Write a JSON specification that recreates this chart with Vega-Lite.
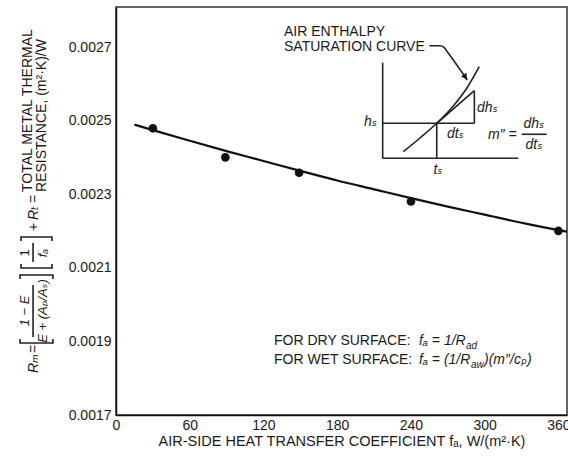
{
  "$schema": "https://vega.github.io/schema/vega-lite/v6.json",
  "width": 451,
  "height": 408,
  "autosize": {"type": "none"},
  "padding": {"left": 116, "top": 7, "right": 1, "bottom": 41},
  "background": "white",
  "config": {
    "view": {"stroke": "#333", "strokeWidth": 1.5},
    "font": "Liberation Sans, DejaVu Sans",
    "axis": {
      "domainColor": "#111", "domainWidth": 1.5, "ticks": false, "tickSize": 0, "grid": false,
      "labelFont": "Liberation Sans", "labelFontSize": 14, "labelColor": "#1a1a1a",
      "titleFont": "Liberation Sans, DejaVu Sans", "titleFontSize": 14.5, "titleFontWeight": "normal", "titleColor": "#1a1a1a"
    }
  },
  "datasets": {
    "curve": [
      {"x": 15, "y": 0.00249}, {"x": 30, "y": 0.002475}, {"x": 60, "y": 0.002446}, {"x": 90, "y": 0.002418},
      {"x": 120, "y": 0.002391}, {"x": 150, "y": 0.002364}, {"x": 180, "y": 0.002338}, {"x": 210, "y": 0.002314},
      {"x": 240, "y": 0.00229}, {"x": 270, "y": 0.002267}, {"x": 300, "y": 0.002245}, {"x": 330, "y": 0.002223},
      {"x": 360, "y": 0.002203}, {"x": 367, "y": 0.002199}
    ],
    "points": [
      {"x": 30, "y": 0.00248}, {"x": 89, "y": 0.002401}, {"x": 149, "y": 0.002359}, {"x": 240, "y": 0.002281}, {"x": 360, "y": 0.002201}
    ],
    "xticks": [{"x": 60}, {"x": 120}, {"x": 180}, {"x": 240}, {"x": 300}, {"x": 360}],
    "yticks": [{"y": 0.0019}, {"y": 0.0021}, {"y": 0.0023}, {"y": 0.0025}, {"y": 0.0027}],
    "segs": [
      {"seg": "vaxis", "o": 1, "x": 217.0, "y": 0.0026585}, {"seg": "vaxis", "o": 2, "x": 217.0, "y": 0.0023984},
      {"seg": "haxis", "o": 1, "x": 217.0, "y": 0.0023984}, {"seg": "haxis", "o": 2, "x": 327.4, "y": 0.0023984},
      {"seg": "hs", "o": 1, "x": 217.0, "y": 0.0024936}, {"seg": "hs", "o": 2, "x": 291.6, "y": 0.0024936},
      {"seg": "ts", "o": 1, "x": 261.0, "y": 0.0024936}, {"seg": "ts", "o": 2, "x": 261.0, "y": 0.0023984},
      {"seg": "tri", "o": 1, "x": 291.6, "y": 0.0024936}, {"seg": "tri", "o": 2, "x": 291.6, "y": 0.0025823},
      {"seg": "tan", "o": 1, "x": 261.0, "y": 0.0024936}, {"seg": "tan", "o": 2, "x": 291.6, "y": 0.0025823},
      {"seg": "fbar", "o": 1, "x": 330.1, "y": 0.0024637}, {"seg": "fbar", "o": 2, "x": 350.5, "y": 0.0024637},
      {"seg": "bigL", "o": 1, "x": -78.1, "y": 0.0019068}, {"seg": "bigL", "o": 2, "x": -78.1, "y": 0.0018959},
      {"seg": "bigL", "o": 3, "x": -51.3, "y": 0.0018959}, {"seg": "bigL", "o": 4, "x": -51.3, "y": 0.0019068},
      {"seg": "bigR", "o": 1, "x": -78.1, "y": 0.00207}, {"seg": "bigR", "o": 2, "x": -78.1, "y": 0.0020809},
      {"seg": "bigR", "o": 3, "x": -51.3, "y": 0.0020809}, {"seg": "bigR", "o": 4, "x": -51.3, "y": 0.00207},
      {"seg": "smL", "o": 1, "x": -77.3, "y": 0.0021108}, {"seg": "smL", "o": 2, "x": -77.3, "y": 0.0020999},
      {"seg": "smL", "o": 3, "x": -52.1, "y": 0.0020999}, {"seg": "smL", "o": 4, "x": -52.1, "y": 0.0021108},
      {"seg": "smR", "o": 1, "x": -77.3, "y": 0.0021734}, {"seg": "smR", "o": 2, "x": -77.3, "y": 0.0021843},
      {"seg": "smR", "o": 3, "x": -52.1, "y": 0.0021843}, {"seg": "smR", "o": 4, "x": -52.1, "y": 0.0021734},
      {"seg": "fbar1", "o": 1, "x": -67.5, "y": 0.0020537}, {"seg": "fbar1", "o": 2, "x": -67.5, "y": 0.0019122},
      {"seg": "fbar2", "o": 1, "x": -67.5, "y": 0.0021679}, {"seg": "fbar2", "o": 2, "x": -67.5, "y": 0.0021163}
    ],
    "smooth": [
      {"seg": "sat", "x": 233.8, "y": 0.0024163}, {"seg": "sat", "x": 247.4, "y": 0.0024536}, {"seg": "sat", "x": 261.0, "y": 0.0024936},
      {"seg": "sat", "x": 274.5, "y": 0.0025407}, {"seg": "sat", "x": 285.4, "y": 0.0025888}, {"seg": "sat", "x": 295.6, "y": 0.0026476},
      {"seg": "arrow", "x": 255.0, "y": 0.0027047}, {"seg": "arrow", "x": 263.6, "y": 0.0027047}, {"seg": "arrow", "x": 266.9, "y": 0.0027004},
      {"seg": "arrow", "x": 269.6, "y": 0.0026884}, {"seg": "arrow", "x": 285.9, "y": 0.0026114}
    ],
    "arrowhead": [{"x": 284.3, "y": 0.0026195}],
    "rotRomanLeft": [
      {"t": "=", "x": -63.5, "y": 0.0018687},
      {"t": "+", "x": -63.5, "y": 0.0022006},
      {"t": "=", "x": -63.5, "y": 0.0022768},
      {"t": "TOTAL METAL THERMAL", "x": -68.4, "y": 0.0023067},
      {"t": "RESISTANCE, (m²·K)/W", "x": -57.0, "y": 0.0023067}
    ],
    "rotItalicLeft": [
      {"t": "Rₘ", "x": -63.5, "y": 0.0018143},
      {"t": "Rₜ", "x": -63.5, "y": 0.0022305}
    ],
    "rotItalicCenter": [
      {"t": "1 − E", "x": -70.8, "y": 0.0019829},
      {"t": "E + (Aₚ/Aₛ)", "x": -56.1, "y": 0.0019829},
      {"t": "fₐ", "x": -56.1, "y": 0.0021407}
    ],
    "rotRomanCenter": [{"t": "1", "x": -70.8, "y": 0.0021407}],
    "hRomanLeft": [
      {"t": "AIR ENTHALPY", "x": 136.7, "y": 0.0027312},
      {"t": "SATURATION CURVE", "x": 136.7, "y": 0.0026903},
      {"t": "FOR DRY SURFACE:", "x": 128.6, "y": 0.0018904},
      {"t": "FOR WET SURFACE:", "x": 128.6, "y": 0.0018388}
    ],
    "hItalicLeft": [
      {"t": "dhₛ", "x": 293.8, "y": 0.0025243},
      {"t": "dtₛ", "x": 269.3, "y": 0.0024536},
      {"t": "m″ =", "x": 302.7, "y": 0.0024509},
      {"t": "fₐ = 1/R", "x": 246.6, "y": 0.0018904},
      {"t": "fₐ = (1/R", "x": 246.6, "y": 0.0018388},
      {"t": ")(m″/cₚ)", "x": 299.5, "y": 0.0018388}
    ],
    "hItalicRight": [{"t": "hₛ", "x": 212.4, "y": 0.0024863}],
    "hItalicCenter": [
      {"t": "dhₛ", "x": 340.1, "y": 0.0024808},
      {"t": "dtₛ", "x": 340.1, "y": 0.0024237},
      {"t": "tₛ", "x": 262.0, "y": 0.0023557}
    ],
    "hItalicSub": [
      {"t": "ad", "x": 284.8, "y": 0.0018904},
      {"t": "aw", "x": 288.9, "y": 0.0018388}
    ]
  },
  "encoding": {
    "x": {
      "field": "x", "type": "quantitative",
      "scale": {"domain": [0, 367], "nice": false, "zero": false},
      "axis": {"values": [0, 60, 120, 180, 240, 300, 360], "labelPadding": 3, "labelFlush": false,
               "title": "AIR-SIDE HEAT TRANSFER COEFFICIENT fₐ, W/(m²·K)", "titlePadding": 2}
    },
    "y": {
      "field": "y", "type": "quantitative",
      "scale": {"domain": [0.0017, 0.00281], "nice": false, "zero": false},
      "axis": {"values": [0.0017, 0.0019, 0.0021, 0.0023, 0.0025, 0.0027], "format": ".4f", "labelPadding": 5, "labelFlush": false, "title": null}
    }
  },
  "layer": [
    {"data": {"name": "xticks"}, "mark": {"type": "rule", "color": "#111", "strokeWidth": 1.5},
     "encoding": {"x": {"field": "x", "type": "quantitative"}, "y": {"datum": 0.0017}, "y2": {"datum": 0.001719}}},
    {"data": {"name": "yticks"}, "mark": {"type": "rule", "color": "#111", "strokeWidth": 1.5},
     "encoding": {"y": {"field": "y", "type": "quantitative"}, "x": {"datum": 0}, "x2": {"datum": 5.2}}},
    {"data": {"name": "curve"}, "mark": {"type": "line", "color": "#111", "strokeWidth": 2.2, "interpolate": "monotone"}},
    {"data": {"name": "points"}, "mark": {"type": "point", "filled": true, "shape": "circle", "size": 75, "color": "#111", "opacity": 1}},
    {"data": {"name": "segs"}, "mark": {"type": "line", "color": "#222", "strokeWidth": 1.6}, "encoding": {"detail": {"field": "seg"}, "order": {"field": "o"}}},
    {"data": {"name": "smooth"}, "mark": {"type": "line", "color": "#222", "strokeWidth": 1.6, "interpolate": "monotone"}, "encoding": {"detail": {"field": "seg"}}},
    {"data": {"name": "arrowhead"}, "mark": {"type": "point", "shape": "triangle-up", "filled": true, "size": 45, "angle": 145, "color": "#111", "opacity": 1}},
    {"data": {"name": "rotRomanLeft"}, "mark": {"type": "text", "angle": 270, "align": "left", "baseline": "alphabetic", "fontSize": 14, "font": "Liberation Sans, DejaVu Sans", "color": "#1a1a1a"}, "encoding": {"text": {"field": "t"}}},
    {"data": {"name": "rotItalicLeft"}, "mark": {"type": "text", "angle": 270, "align": "left", "baseline": "alphabetic", "fontSize": 14, "fontStyle": "italic", "font": "Liberation Sans, DejaVu Sans", "color": "#1a1a1a"}, "encoding": {"text": {"field": "t"}}},
    {"data": {"name": "rotItalicCenter"}, "mark": {"type": "text", "angle": 270, "align": "center", "baseline": "alphabetic", "fontSize": 13, "fontStyle": "italic", "font": "Liberation Sans, DejaVu Sans", "color": "#1a1a1a"}, "encoding": {"text": {"field": "t"}}},
    {"data": {"name": "rotRomanCenter"}, "mark": {"type": "text", "angle": 270, "align": "center", "baseline": "alphabetic", "fontSize": 13, "font": "Liberation Sans, DejaVu Sans", "color": "#1a1a1a"}, "encoding": {"text": {"field": "t"}}},
    {"data": {"name": "hRomanLeft"}, "mark": {"type": "text", "align": "left", "baseline": "alphabetic", "fontSize": 14, "font": "Liberation Sans, DejaVu Sans", "color": "#1a1a1a"}, "encoding": {"text": {"field": "t"}}},
    {"data": {"name": "hItalicLeft"}, "mark": {"type": "text", "align": "left", "baseline": "alphabetic", "fontSize": 14, "fontStyle": "italic", "font": "Liberation Sans, DejaVu Sans", "color": "#1a1a1a"}, "encoding": {"text": {"field": "t"}}},
    {"data": {"name": "hItalicRight"}, "mark": {"type": "text", "align": "right", "baseline": "alphabetic", "fontSize": 14, "fontStyle": "italic", "font": "Liberation Sans, DejaVu Sans", "color": "#1a1a1a"}, "encoding": {"text": {"field": "t"}}},
    {"data": {"name": "hItalicCenter"}, "mark": {"type": "text", "align": "center", "baseline": "alphabetic", "fontSize": 14, "fontStyle": "italic", "font": "Liberation Sans, DejaVu Sans", "color": "#1a1a1a"}, "encoding": {"text": {"field": "t"}}},
    {"data": {"name": "hItalicSub"}, "mark": {"type": "text", "align": "left", "baseline": "alphabetic", "fontSize": 10, "dy": 4, "fontStyle": "italic", "font": "Liberation Sans, DejaVu Sans", "color": "#1a1a1a"}, "encoding": {"text": {"field": "t"}}}
  ]
}
